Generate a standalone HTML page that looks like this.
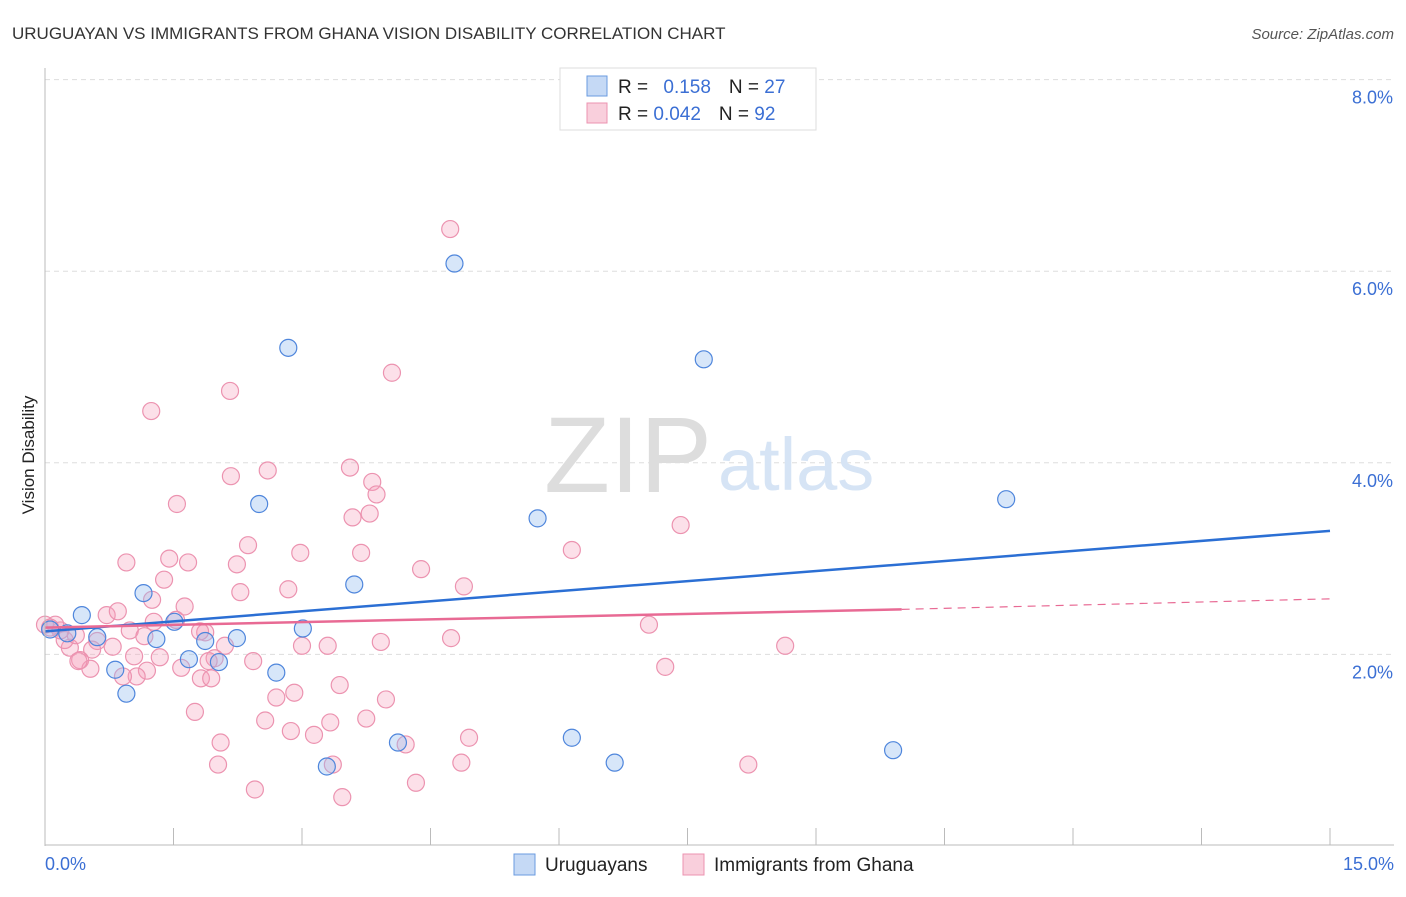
<!DOCTYPE html>
<html><head><meta charset="utf-8"><style>
body{margin:0;background:#fff;font-family:"Liberation Sans",sans-serif;}
svg text{font-family:"Liberation Sans",sans-serif;}
</style></head><body>
<svg id="chart" width="1406" height="892">
<text x="12" y="39" font-size="17" fill="#333">URUGUAYAN VS IMMIGRANTS FROM GHANA VISION DISABILITY CORRELATION CHART</text>
<text x="1394" y="39" font-size="15" fill="#555" text-anchor="end" font-style="italic">Source: ZipAtlas.com</text>
<g id="grid"></g>
<text x="712" y="492" font-size="108" fill="#ddd" text-anchor="end" font-family="Liberation Serif">ZIP</text>
<text x="718" y="490" font-size="74" fill="#d6e4f5">atlas</text>
<g id="points"></g>
<g id="trends"></g>
<line x1="45" y1="68" x2="45" y2="846" stroke="#bbb"/>
<line x1="45" y1="845" x2="1394" y2="845" stroke="#bbb"/>
<g id="xticks"></g>
<text x="45" y="870" font-size="18" fill="#3b6fd4">0.0%</text>
<text x="1394" y="870" font-size="18" fill="#3b6fd4" text-anchor="end">15.0%</text>
<text transform="translate(34,455) rotate(-90)" font-size="17" fill="#222" text-anchor="middle">Vision Disability</text>
<g>
<rect x="560" y="68" width="256" height="62" fill="#fff" stroke="#ddd"/>
<rect x="587" y="76" width="20" height="20" fill="#c5d9f5" stroke="#6a9be0"/>
<rect x="587" y="103" width="20" height="20" fill="#f9cfdc" stroke="#ec93b0"/>
<text x="618" y="93" font-size="19" fill="#222">R = <tspan fill="#3b6fd4" dx="10">0.158</tspan><tspan dx="18">N = </tspan><tspan fill="#3b6fd4">27</tspan></text>
<text x="618" y="120" font-size="19" fill="#222">R = <tspan fill="#3b6fd4">0.042</tspan><tspan dx="18">N = </tspan><tspan fill="#3b6fd4">92</tspan></text>
</g>
<g>
<rect x="514" y="854" width="21" height="21" fill="#c5d9f5" stroke="#6a9be0"/>
<text x="545" y="871" font-size="19" fill="#222">Uruguayans</text>
<rect x="683" y="854" width="21" height="21" fill="#f9cfdc" stroke="#ec93b0"/>
<text x="714" y="871" font-size="19" fill="#222">Immigrants from Ghana</text>
</g>
</svg>
<script>
const yTicks=[2,4,6,8];
const yTickLabels=["2.0%","4.0%","6.0%","8.0%"];
const xTickVals=[0,1.5,3,4.5,6,7.5,9,10.5,12,13.5,15];
const uruX=[4.78,2.84,7.69,11.22,2.5,5.75,3.61,1.15,0.43,1.51,3.01,2.24,1.3,0.61,1.87,0.26,1.68,2.03,0.82,2.7,0.95,6.15,4.12,6.65,9.9,3.29,0.06];
const uruY=[6.08,5.2,5.08,3.62,3.57,3.42,2.73,2.64,2.41,2.34,2.27,2.17,2.16,2.18,2.14,2.22,1.95,1.92,1.84,1.81,1.59,1.13,1.08,0.87,1.0,0.83,2.26];
const ghX=[4.73,4.05,2.16,1.24,3.56,2.6,2.17,3.82,3.87,1.54,3.59,3.79,6.15,7.42,2.37,2.98,3.69,1.45,0.95,1.67,2.24,4.39,1.39,4.89,2.28,2.84,1.63,0.72,0.85,1.53,1.27,1.87,0.99,1.81,3.92,4.74,7.05,8.64,3.3,3.0,2.1,1.16,0.79,0.61,0.55,0.29,0.23,0.36,0.18,0.12,0.41,0.53,0.39,1.34,1.04,1.98,2.43,1.91,1.59,1.19,1.07,0.91,7.24,1.82,1.94,3.44,2.91,2.7,3.98,1.75,2.57,3.75,3.33,2.87,3.14,2.05,4.95,4.21,2.02,4.86,3.36,8.21,4.33,2.45,3.47,0.0,0.06,1.25];
const ghY=[6.44,4.94,4.75,4.54,3.95,3.92,3.86,3.8,3.67,3.57,3.43,3.47,3.09,3.35,3.14,3.06,3.06,3.0,2.96,2.96,2.94,2.89,2.78,2.71,2.65,2.68,2.5,2.41,2.45,2.36,2.34,2.23,2.25,2.24,2.13,2.17,2.31,2.09,2.09,2.09,2.09,2.19,2.08,2.14,2.05,2.07,2.15,2.2,2.25,2.31,1.94,1.85,1.93,1.97,1.98,1.96,1.93,1.93,1.86,1.83,1.77,1.77,1.87,1.75,1.75,1.68,1.6,1.55,1.53,1.4,1.31,1.33,1.29,1.2,1.16,1.08,1.13,1.06,0.85,0.87,0.85,0.85,0.66,0.59,0.51,2.31,2.28,2.57];
const uruTrend=[2.24,3.29];
const ghTrend=[2.28,2.47,2.58];
const NS='http://www.w3.org/2000/svg';
const X0=45,X1=1330,Y0=846,PY=95.8;
const sx=v=>X0+(v/15)*(X1-X0);
const sy=v=>Y0-v*PY;
function mk(t,a,p){const e=document.createElementNS(NS,t);for(const k in a)e.setAttribute(k,a[k]);p.appendChild(e);return e;}
const grid=document.getElementById('grid');
yTicks.forEach((v,i)=>{
 const l=mk('line',{x1:45,x2:1394,y1:sy(v),y2:sy(v),stroke:'#ddd','stroke-dasharray':'5,4'},grid);
 
 
 const t=mk('text',{x:1393,y:sy(v)+24,'font-size':18,fill:'#3b6fd4','text-anchor':'end'},grid);
 t.textContent=yTickLabels[i];
 
 
});
const xt=document.getElementById('xticks');
xTickVals.forEach(v=>{
 const l=mk('line',{x1:sx(v),x2:sx(v),y1:828,y2:845,stroke:'#bbb'},xt);
 
 
});
const pts=document.getElementById('points');
ghX.forEach((x,i)=>{
 const c=mk('circle',{cx:sx(x),cy:sy(ghY[i]),r:8.5,fill:'rgba(245,160,188,0.32)',stroke:'#ec93b0','stroke-width':1.2},pts);
 
 
});
uruX.forEach((x,i)=>{
 const c=mk('circle',{cx:sx(x),cy:sy(uruY[i]),r:8.5,fill:'rgba(150,190,240,0.38)',stroke:'#4f86dc','stroke-width':1.2},pts);
 
 
});
const tr=document.getElementById('trends');
let l1=mk('line',{x1:sx(0),y1:sy(uruTrend[0]),x2:sx(15),y2:sy(uruTrend[1]),stroke:'#2b6fd4','stroke-width':2.5},tr);


let l2=mk('line',{x1:sx(0),y1:sy(ghTrend[0]),x2:sx(10),y2:sy(ghTrend[1]),stroke:'#e86a94','stroke-width':2.5},tr);


let l3=mk('line',{x1:sx(10),y1:sy(ghTrend[1]),x2:sx(15),y2:sy(ghTrend[2]),stroke:'#e86a94','stroke-width':1.2,'stroke-dasharray':'8,6'},tr);


</script>
</body></html>
